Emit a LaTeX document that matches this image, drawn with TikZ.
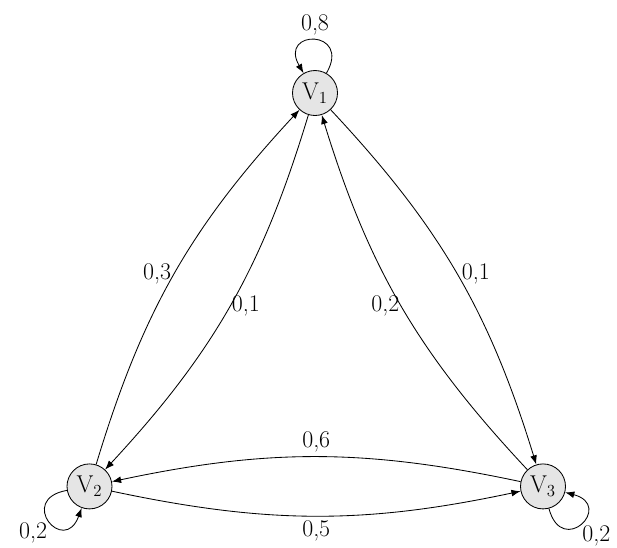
\documentclass[tikz,border=0pt]{standalone}
\usetikzlibrary{arrows.meta}
\begin{document}
\begin{tikzpicture}[>={Latex[length=2.3mm,width=1.7mm]},line width=0.6pt,
    state/.style={circle,draw,fill=gray!20,minimum size=1.125cm,inner sep=0pt},
    font=\fontsize{17}{20}\selectfont]
    \useasboundingbox (0,0) rectangle (15.425,-13.675);
    \node[state] (v1) at (7.875,-2.325) {$\mathrm{V}_1$};
    \node[state] (v2) at (2.2375,-12.16) {$\mathrm{V}_2$};
    \node[state] (v3) at (13.575,-12.16) {$\mathrm{V}_3$};
    % loops
    \draw[->] (v1) to[out=60,in=120,looseness=5.7] node[above] {0,8} (v1);
    \draw[->] (v2) to[out=190,in=250,looseness=5.7] node[below left,inner sep=1pt] {0,2} (v2);
    \draw[->] (v3) to[out=285,in=345,looseness=5.7] node[below right,inner sep=1pt] {0,2} (v3);
    % sides
    \draw[->] (v2) to[bend left=13] node[pos=0.5,left,inner sep=2pt] {0,3} (v1);
    \draw[->] (v1) to[bend left=13] node[pos=0.5,right,inner sep=1pt] {0,1} (v2);
    \draw[->] (v1) to[bend left=13] node[pos=0.5,right] {0,1} (v3);
    \draw[->] (v3) to[bend left=13] node[pos=0.5,left,inner sep=1pt] {0,2} (v1);
    % bottom
    \draw[->] (v2) to[bend right=12] node[midway,below] {0,5} (v3);
    \draw[->] (v3) to[bend right=12] node[midway,above] {0,6} (v2);
\end{tikzpicture}
\end{document}
